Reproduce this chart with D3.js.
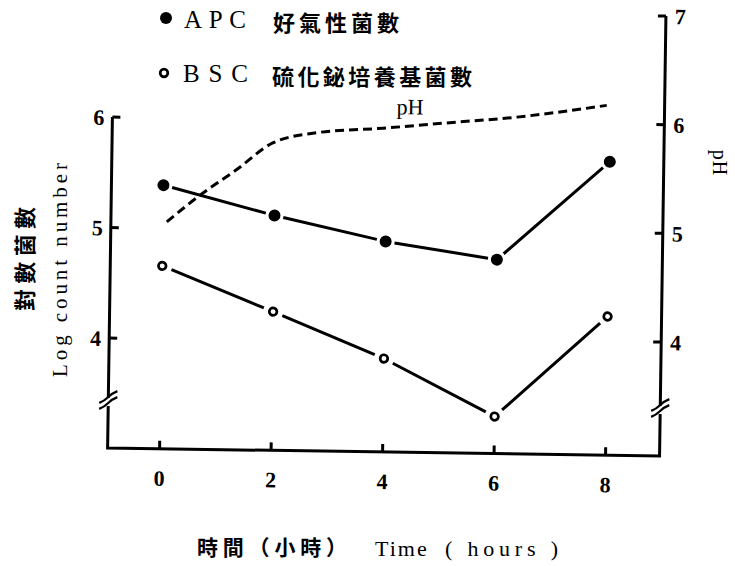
<!DOCTYPE html>
<html><head><meta charset="utf-8">
<script src="https://cdn.jsdelivr.net/npm/d3@7"></script>
<style>body{margin:0;background:#fff}svg{display:block}</style>
</head><body>
<svg id="c" width="735" height="566"></svg>
<script>
const hours = [0, 2, 4, 6, 8];
const apc = [5.39, 5.13, 4.91, 4.76, 5.66];
const bsc = [4.66, 4.26, 3.85, 3.34, 4.26];
const phHours = [0.07, 0.66, 1.31, 1.95, 2.74, 3.92, 5.12, 6.32, 7.93];
const phValues = [5.04, 5.29, 5.53, 5.78, 5.88, 5.93, 5.99, 6.05, 6.17];
const xTicks = [0, 2, 4, 6, 8];
const leftTicks = [4, 5, 6];
const rightTicks = [4, 5, 6, 7];

const svg = d3.select("#c");
const x = d3.scaleLinear().domain([0, 8]).range([162, 608]);
const yL = d3.scaleLinear().domain([4, 6]).range([342, 121]);
const yR = d3.scaleLinear().domain([4, 7]).range([338, 12]);
const xL = 110, xR = 662, yBottom = 452;
const serif = "'Liberation Serif','DejaVu Serif',serif";
const cjk = "'Noto Sans CJK TC','Noto Sans CJK SC',sans-serif";

// plot group, slightly rotated like the scanned original
const plot = svg.append("g").attr("transform", "rotate(0.83,385,285)");

const g = plot.append("g").attr("stroke", "#000").attr("stroke-width", 3).attr("fill", "none");
g.append("path").attr("d", `M${xL},${yL(6)} V402 M${xL},410 V${yBottom} H${xR} V410 M${xR},402 V${yR(7)}`);
[xL, xR].forEach(ax => {
  g.append("path").attr("stroke-width", 2.2)
    .attr("d", `M${ax-9},${407} q5,-2 9,-6 q4,-4 9,-6 M${ax-9},${413} q5,-2 9,-6 q4,-4 9,-6`);
});
leftTicks.forEach(t => g.append("line").attr("x1", xL).attr("x2", xL + 8).attr("y1", yL(t)).attr("y2", yL(t)));
rightTicks.forEach(t => g.append("line").attr("x1", xR).attr("x2", xR - 8).attr("y1", yR(t)).attr("y2", yR(t)));
xTicks.forEach(t => g.append("line").attr("x1", x(t)).attr("x2", x(t)).attr("y1", yBottom).attr("y2", yBottom - 8));

const tl = plot.append("g").attr("font-family", serif).attr("font-weight", "bold").attr("font-size", 22).attr("fill", "#000");
xTicks.forEach(t => tl.append("text").attr("x", x(t)).attr("y", 489).attr("text-anchor", "middle").text(t));
leftTicks.forEach(t => tl.append("text").attr("x", xL - 8).attr("y", yL(t) + 8).attr("text-anchor", "end").text(t));
rightTicks.forEach(t => tl.append("text").attr("x", xR + 9).attr("y", yR(t) + 8).attr("text-anchor", "start").text(t));

function gappedSegments(xs, ys, yScale, gap) {
  const segs = [];
  for (let i = 0; i < xs.length - 1; i++) {
    const x1 = x(xs[i]), y1 = yScale(ys[i]), x2 = x(xs[i+1]), y2 = yScale(ys[i+1]);
    const dx = x2 - x1, dy = y2 - y1, L = Math.hypot(dx, dy);
    segs.push([x1 + dx / L * gap, y1 + dy / L * gap, x2 - dx / L * gap, y2 - dy / L * gap]);
  }
  return segs;
}
[[apc, 9], [bsc, 10]].forEach(([vals, gap]) => {
  plot.append("g").selectAll("line").data(gappedSegments(hours, vals, yL, gap)).join("line")
    .attr("x1", d => d[0]).attr("y1", d => d[1]).attr("x2", d => d[2]).attr("y2", d => d[3])
    .attr("stroke", "#000").attr("stroke-width", 3);
});
plot.append("g").selectAll("circle").data(hours).join("circle")
  .attr("cx", d => x(d)).attr("cy", (d, i) => yL(apc[i])).attr("r", 6).attr("fill", "#000");
plot.append("g").selectAll("circle").data(hours).join("circle")
  .attr("cx", d => x(d)).attr("cy", (d, i) => yL(bsc[i])).attr("r", 3.8).attr("fill", "#fff")
  .attr("stroke", "#000").attr("stroke-width", 2.7);

const phLine = d3.line().x(d => x(d[0])).y(d => yR(d[1])).curve(d3.curveMonotoneX);
plot.append("path").datum(phHours.map((h, i) => [h, phValues[i]])).attr("d", phLine)
  .attr("fill", "none").attr("stroke", "#000").attr("stroke-width", 3).attr("stroke-dasharray", "9,5");
plot.append("text").attr("x", 394).attr("y", 114).attr("font-family", serif).attr("font-size", 22).text("pH");

// legend
svg.append("circle").attr("cx", 166).attr("cy", 18).attr("r", 6).attr("fill", "#000");
svg.append("text").attr("x", 184).attr("y", 28).attr("font-family", serif).attr("font-size", 25)
  .attr("textLength", 62).attr("lengthAdjust", "spacing").text("APC");
svg.append("text").attr("x", 273).attr("y", 31).attr("font-family", cjk).attr("font-weight", "bold").attr("font-size", 22)
  .attr("textLength", 126).attr("lengthAdjust", "spacing").text("好氣性菌數");
svg.append("circle").attr("cx", 164).attr("cy", 73).attr("r", 3.8).attr("fill", "#fff").attr("stroke", "#000").attr("stroke-width", 2.7);
svg.append("text").attr("x", 183).attr("y", 82).attr("font-family", serif).attr("font-size", 25)
  .attr("textLength", 65).attr("lengthAdjust", "spacing").text("BSC");
svg.append("text").attr("x", 272).attr("y", 85).attr("font-family", cjk).attr("font-weight", "bold").attr("font-size", 22)
  .attr("textLength", 200).attr("lengthAdjust", "spacing").text("硫化鉍培養基菌數");

// axis titles
svg.append("text").attr("transform", "translate(33,259) rotate(-90)").attr("text-anchor", "middle")
  .attr("font-family", cjk).attr("font-weight", "bold").attr("font-size", 22)
  .attr("textLength", 104).attr("lengthAdjust", "spacing").text("對數菌數");
svg.append("text").attr("transform", "translate(67,270) rotate(-90)").attr("text-anchor", "middle")
  .attr("font-family", serif).attr("font-size", 21)
  .attr("textLength", 214).attr("lengthAdjust", "spacing").text("Log count number");
svg.append("text").attr("transform", "translate(713,163) rotate(90)").attr("text-anchor", "middle")
  .attr("font-family", serif).attr("font-size", 20).attr("letter-spacing", 1).text("pH");
svg.append("text").attr("x", 197).attr("y", 555).attr("font-family", cjk).attr("font-weight", "bold").attr("font-size", 21)
  .attr("textLength", 150).attr("lengthAdjust", "spacing").text("時間（小時）");
svg.append("text").attr("x", 375).attr("y", 556).attr("font-family", serif).attr("font-size", 22)
  .attr("letter-spacing", 2).text("Time");
svg.append("text").attr("x", 445).attr("y", 556).attr("font-family", serif).attr("font-size", 22)
  .attr("textLength", 113).attr("lengthAdjust", "spacing").text("( hours )");
</script>
</body></html>
